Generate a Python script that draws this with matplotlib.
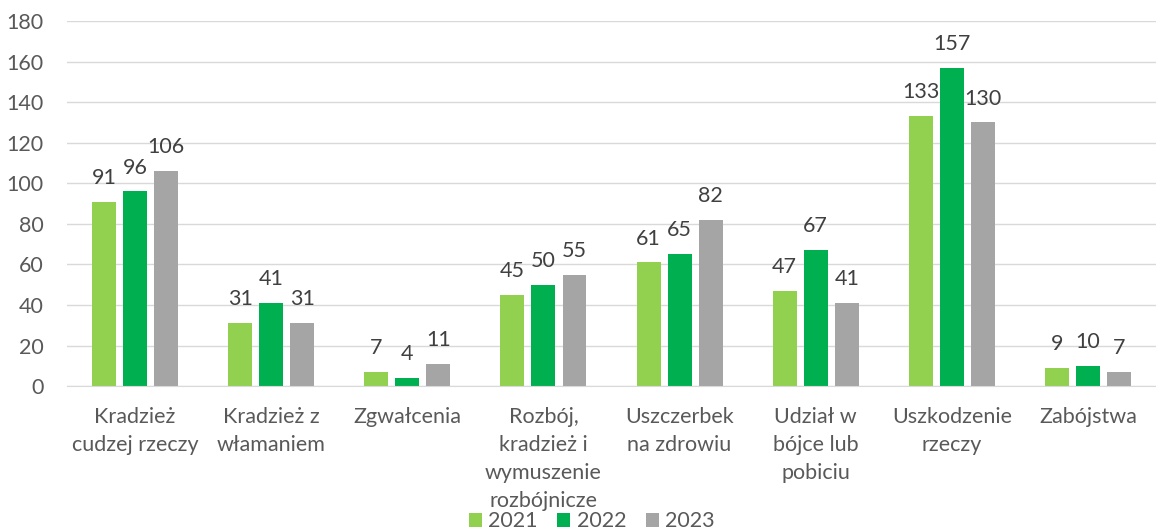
import numpy as np
import matplotlib.pyplot as plt

plt.rcParams['font.family'] = ['Lato', 'DejaVu Sans']

# Categories and values per year
categories = ['Kradzież\ncudzej rzeczy', 'Kradzież z\nwłamaniem', 'Zgwałcenia',
              'Rozbój,\nkradzież i\nwymuszenie\nrozbójnicze', 'Uszczerbek\nna zdrowiu',
              'Udział w\nbójce lub\npobiciu', 'Uszkodzenie\nrzeczy', 'Zabójstwa']
years = ['2021', '2022', '2023']
v2021 = [91, 31, 7, 45, 61, 47, 133, 9]
v2022 = [96, 41, 4, 50, 65, 67, 157, 10]
v2023 = [106, 31, 11, 55, 82, 41, 130, 7]
colors = ['#92D050', '#00B050', '#A5A5A5']

fig = plt.figure(figsize=(11.56, 5.32), dpi=100)
ax = fig.add_axes([0.058, 0.274, 0.942, 0.6865])

x = np.arange(len(categories))
width = 0.176
step = 0.228
for i, (vals, yr) in enumerate(zip([v2021, v2022, v2023], years)):
    bars = ax.bar(x + (i - 1) * step, vals, width, color=colors[i], label=yr, zorder=2)
    for b, v in zip(bars, vals):
        ax.annotate(str(v), (b.get_x() + b.get_width() / 2, v), xytext=(0, 10),
                    textcoords='offset points', ha='center', va='bottom',
                    fontsize=15.5, color='#404040')

ax.set_ylim(0, 180)
ax.set_xlim(-0.5, len(categories) - 0.5)
ax.set_yticks(range(0, 181, 20))
ax.set_xticks(x)
ax.set_xticklabels(categories, linespacing=1.5)
ax.tick_params(axis='both', length=0, labelsize=15.5, labelcolor='#595959')
ax.tick_params(axis='x', pad=15)
ax.tick_params(axis='y', pad=17)
ax.yaxis.grid(True, color='#D9D9D9', linewidth=1, zorder=0)
for s in ['top', 'right', 'left']:
    ax.spines[s].set_visible(False)
ax.spines['bottom'].set_color('#D9D9D9')

fig.legend(loc='center', bbox_to_anchor=(0.512, 0.02), ncol=3, frameon=False,
           fontsize=15.5, labelcolor='#595959', handlelength=0.6, handleheight=0.6,
           columnspacing=0.9, handletextpad=0.3)

fig.savefig('out.png', dpi=100)
